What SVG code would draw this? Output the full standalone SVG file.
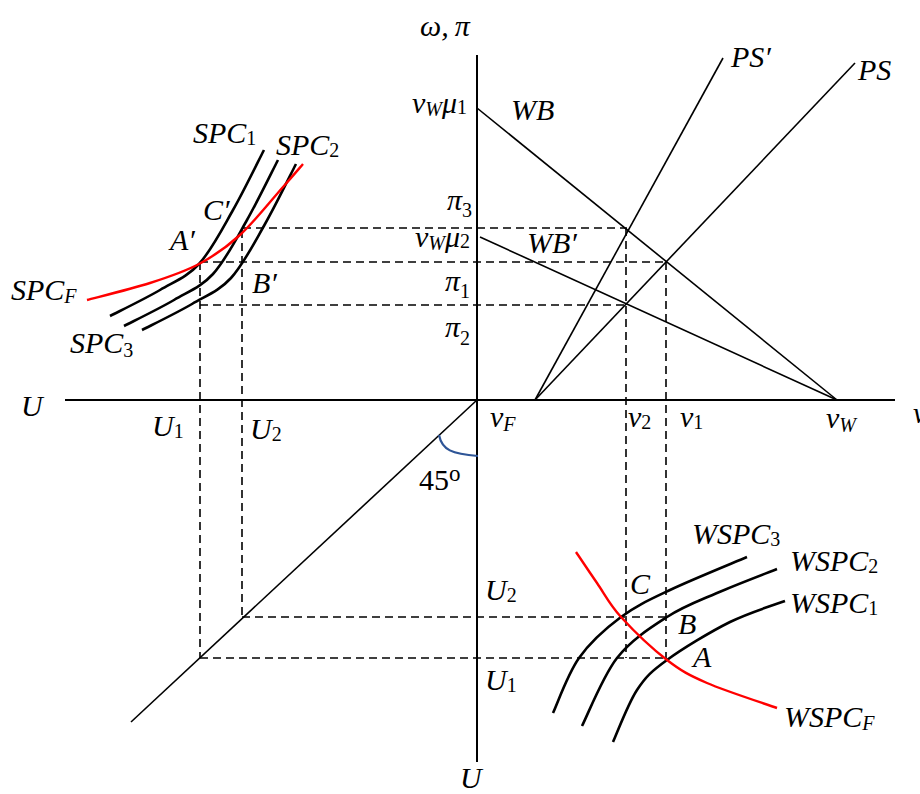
<svg xmlns="http://www.w3.org/2000/svg" width="920" height="794" viewBox="0 0 920 794">
<style>
.ax{stroke:#000;stroke-width:2;fill:none}
.ln{stroke:#000;stroke-width:1.6;fill:none}
.ds{stroke:#000;stroke-width:1.6;stroke-dasharray:8 5;fill:none}
.cv{stroke:#000;stroke-width:2.6;fill:none}
.rd{stroke:#FF0000;stroke-width:2.4;fill:none}
.t{font-family:"Liberation Serif","Times New Roman",serif;font-style:italic;font-size:30px;fill:#000}
.s{font-size:20px}
.n{font-style:normal}
</style>
<rect width="920" height="794" fill="#fff"/>
<g id="axes">
<path class="ax" d="M65,400 H895"/>
<path class="ax" d="M477,55 V762"/>
<path class="ln" d="M477,400 L131,722"/>
<path d="M439,435 C442,450 452,454 478,456" fill="none" stroke="#2E5597" stroke-width="2.2"/>
</g>
<g id="connectors">
<path class="ln" d="M477,108 L837,400"/>
<path class="ln" d="M480,237 L837,400"/>
<path class="ln" d="M535,400 L723,58"/>
<path class="ln" d="M535,400 L855,63"/>
<path class="ds" d="M243,228 H627"/>
<path class="ds" d="M200,262 H666"/>
<path class="ds" d="M200,305 H625"/>
<path class="ds" d="M200,262 V658"/>
<path class="ds" d="M242,230 V617"/>
<path class="ds" d="M626,228 V658"/>
<path class="ds" d="M666,262 V660"/>
<path class="ds" d="M242,617 H668"/>
<path class="ds" d="M200,658 H668"/>
</g>
<g id="spc">
<path class="cv" d="M264,150 C258.8,160 243.8,191 233,210 C222.2,229 211.2,250.7 199,264 C186.8,277.3 174.8,281.3 160,290 C145.2,298.7 118.3,311.7 110,316"/>
<path class="cv" d="M278,160 C272.8,170 257.8,201 247,220 C236.2,239 225.2,260.7 213,274 C200.8,287.3 188.8,291.3 174,300 C159.2,308.7 132.3,321.7 124,326"/>
<path class="cv" d="M296,164 C290.8,174 275.8,205 265,224 C254.2,243 243.2,264.7 231,278 C218.8,291.3 206.8,295.3 192,304 C177.2,312.7 150.3,325.7 142,330"/>
<path class="rd" d="M87,300 C97.5,297.2 131.3,289 150,283 C168.7,277 184,272 199,264 C214,256 226,247.8 240,235 C254,222.2 272.5,198.8 283,187 C293.5,175.2 299.7,167.8 303,164"/>
</g>
<g id="wspc">
<path class="cv" d="M553,713 C557.3,703.8 567.7,674 579,658 C590.3,642 605.8,628.3 621,617 C636.2,605.7 649,600 670,590 C691,580 734.2,562.5 747,557"/>
<path class="cv" d="M582,726 C587.8,714.7 602.8,676.2 617,658 C631.2,639.8 650.3,627.8 667,617 C683.7,606.2 698.7,601 717,593 C735.3,585 767,573 777,569"/>
<path class="cv" d="M613,742 C617,733.3 628,703.7 637,690 C646,676.3 651.5,671.3 667,660 C682.5,648.7 710.3,631.8 730,622 C749.7,612.2 775.8,604.5 785,601"/>
<path class="rd" d="M576,552 C579.5,557.2 589.5,572.2 597,583 C604.5,593.8 609.3,604.2 621,617 C632.7,629.8 652.7,649 667,660 C681.3,671 688.7,675 707,683 C725.3,691 765.3,703.8 777,708"/>
</g>
<g id="labels">
<text class="t" x="420" y="36">ω,&#8201;π</text>
<text class="t" x="412" y="113">v<tspan class="s" dy="3">W</tspan><tspan dy="-3">μ</tspan><tspan class="s n" dy="1">1</tspan></text>
<text class="t" x="511" y="120">WB</text>
<text class="t" x="731" y="67">PS′</text>
<text class="t" x="858" y="80">PS</text>
<text class="t" x="447" y="210">π<tspan class="s n" dy="7">3</tspan></text>
<text class="t" x="415" y="247">v<tspan class="s" dy="3">W</tspan><tspan dy="-3">μ</tspan><tspan class="s n" dy="1">2</tspan></text>
<text class="t" x="527" y="253">WB′</text>
<text class="t" x="445" y="291">π<tspan class="s n" dy="7">1</tspan></text>
<text class="t" x="445" y="337">π<tspan class="s n" dy="8">2</tspan></text>
<text class="t" x="193" y="143">SPC<tspan class="s n" dy="2">1</tspan></text>
<text class="t" x="276" y="155">SPC<tspan class="s n" dy="2">2</tspan></text>
<text class="t" x="203" y="220">C′</text>
<text class="t" x="170" y="250">A′</text>
<text class="t" x="252" y="293">B′</text>
<text class="t" x="11" y="300">SPC<tspan class="s" dy="3">F</tspan></text>
<text class="t" x="70" y="353">SPC<tspan class="s n" dy="4">3</tspan></text>
<text class="t" x="21" y="416">U</text>
<text class="t" x="152" y="436">U<tspan class="s n" dy="2">1</tspan></text>
<text class="t" x="250" y="439">U<tspan class="s n" dy="2">2</tspan></text>
<text class="t" x="490" y="427">v<tspan class="s" dy="4">F</tspan></text>
<text class="t" x="628" y="427">v<tspan class="s n" dy="2">2</tspan></text>
<text class="t" x="680" y="427">v<tspan class="s n" dy="2">1</tspan></text>
<text class="t" x="826" y="428">v<tspan class="s" dy="4">W</tspan></text>
<text class="t" x="913" y="423">v</text>
<text class="t n" x="419" y="490">45<tspan font-size="23" dy="-9">o</tspan></text>
<text class="t" x="485" y="600">U<tspan class="s n" dy="2">2</tspan></text>
<text class="t" x="485" y="690">U<tspan class="s n" dy="2">1</tspan></text>
<text class="t" x="460" y="788">U</text>
<text class="t" x="692" y="544">WSPC<tspan class="s n" dy="2">3</tspan></text>
<text class="t" x="790" y="571">WSPC<tspan class="s n" dy="2">2</tspan></text>
<text class="t" x="790" y="613">WSPC<tspan class="s n" dy="2">1</tspan></text>
<text class="t" x="784" y="727">WSPC<tspan class="s" dy="3">F</tspan></text>
<text class="t" x="630" y="594">C</text>
<text class="t" x="678" y="634">B</text>
<text class="t" x="693" y="667">A</text>
</g>
</svg>
